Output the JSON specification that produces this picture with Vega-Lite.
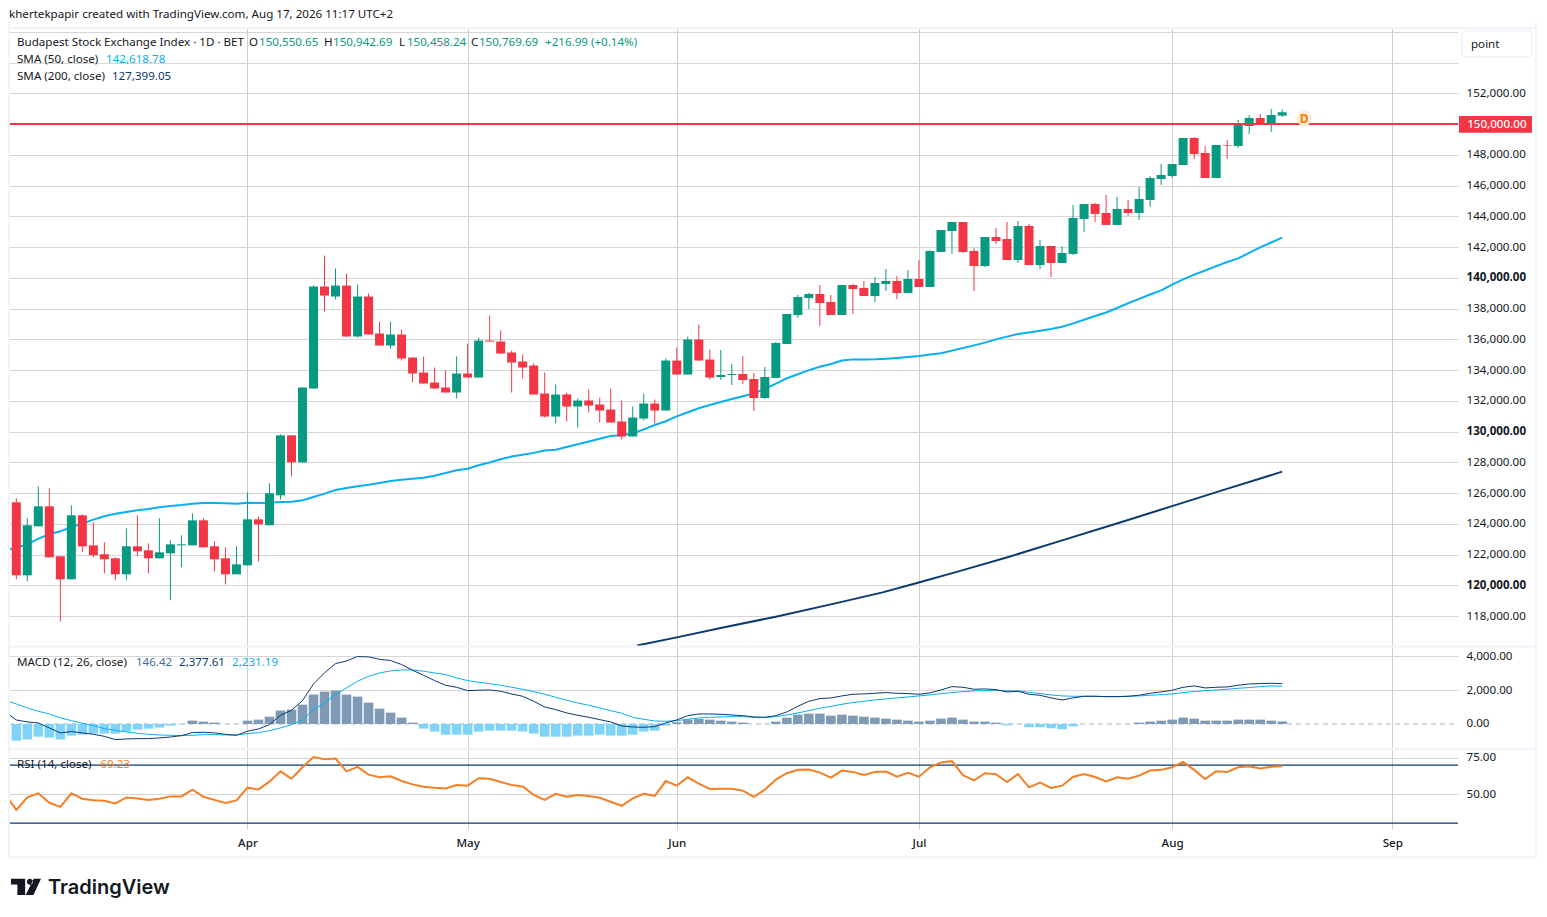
{
"$schema":"https://vega.github.io/schema/vega-lite/v6.json",
"background":"white",
"padding":{"left":5,"top":9,"right":0,"bottom":0},
"spacing":0,
"bounds":"flush",
"config":{"view":{"stroke":null},"font":"Noto Sans","text":{"font":"Noto Sans","fontSize":11.6,"dy":1,"align":"left","baseline":"middle","color":"#131722"}},
"datasets":{
"d":[
{"bar":-0.66,"sma":122329,"macd":550,"sig":1320,"rsi":46},
{"bar":0,"o":125406,"h":125666,"l":120400,"c":120660,"sma":122459,"macd":235,"sig":1182,"hist":-985,"rsi":39.1},
{"bar":1,"o":120660,"h":124366,"l":120270,"c":123911,"sma":122675,"macd":120,"sig":945,"hist":-925,"rsi":47.7},
{"bar":2,"o":123846,"h":126446,"l":123846,"c":125146,"sma":123044,"macd":60,"sig":749,"hist":-750,"rsi":50.5},
{"bar":3,"o":125146,"h":126316,"l":121830,"c":121830,"sma":123326,"macd":-235,"sig":591,"hist":-810,"rsi":44},
{"bar":4,"o":121895,"h":121895,"l":117670,"c":120400,"sma":123521,"macd":-530,"sig":355,"hist":-925,"rsi":41.2},
{"bar":5,"o":120400,"h":125210,"l":120400,"c":124560,"sma":123802,"macd":-450,"sig":197,"hist":-690,"rsi":50.5},
{"bar":6,"o":124560,"h":124626,"l":122155,"c":122546,"sma":124019,"macd":-530,"sig":39,"hist":-630,"rsi":46.8},
{"bar":7,"o":122610,"h":124106,"l":121830,"c":121960,"sma":124279,"macd":-610,"sig":-98,"hist":-570,"rsi":45.8},
{"bar":8,"o":122025,"h":122805,"l":120790,"c":121700,"sma":124496,"macd":-730,"sig":-276,"hist":-570,"rsi":45.4},
{"bar":9,"o":121765,"h":121830,"l":120335,"c":120725,"sma":124669,"macd":-925,"sig":-374,"hist":-570,"rsi":43.5},
{"bar":10,"o":120725,"h":123716,"l":120335,"c":122546,"sma":124777,"macd":-885,"sig":-473,"hist":-450,"rsi":47.7},
{"bar":11,"o":122546,"h":124560,"l":121895,"c":122220,"sma":124886,"macd":-865,"sig":-552,"hist":-335,"rsi":47},
{"bar":12,"o":122285,"h":122740,"l":120790,"c":121765,"sma":124973,"macd":-865,"sig":-611,"hist":-275,"rsi":46},
{"bar":13,"o":121765,"h":124366,"l":121765,"c":122155,"sma":125081,"macd":-825,"sig":-650,"hist":-215,"rsi":46.8},
{"bar":14,"o":122090,"h":122935,"l":119035,"c":122675,"sma":125168,"macd":-770,"sig":-670,"hist":-100,"rsi":48.4},
{"bar":15,"o":122610,"h":123260,"l":121180,"c":122675,"sma":125233,"macd":-690,"sig":-690,"hist":-20,"rsi":48.4},
{"bar":16,"o":122610,"h":124690,"l":122610,"c":124235,"sma":125319,"macd":-510,"sig":-670,"hist":195,"rsi":53},
{"bar":17,"o":124235,"h":124366,"l":122480,"c":122480,"sma":125363,"macd":-490,"sig":-630,"hist":140,"rsi":48.1},
{"bar":18,"o":122546,"h":122870,"l":120920,"c":121700,"sma":125363,"macd":-530,"sig":-630,"hist":80,"rsi":46},
{"bar":19,"o":121765,"h":122480,"l":120075,"c":120725,"sma":125341,"macd":-610,"sig":-650,"hist":5,"rsi":43.8},
{"bar":20,"o":120725,"h":122546,"l":120725,"c":121375,"sma":125319,"macd":-670,"sig":-650,"hist":5,"rsi":45.6},
{"bar":21,"o":121310,"h":126056,"l":121310,"c":124300,"sma":125384,"macd":-430,"sig":-571,"hist":195,"rsi":54.4},
{"bar":22,"o":124300,"h":124495,"l":121570,"c":123975,"sma":125363,"macd":-295,"sig":-512,"hist":255,"rsi":53.2},
{"bar":23,"o":123911,"h":126640,"l":123911,"c":125990,"sma":125384,"macd":-40,"sig":-394,"hist":430,"rsi":58.6},
{"bar":24,"o":125860,"h":129827,"l":125600,"c":129760,"sma":125428,"macd":510,"sig":-236,"hist":790,"rsi":65.7},
{"bar":25,"o":129760,"h":129760,"l":127096,"c":128006,"sma":125449,"macd":810,"sig":-39,"hist":850,"rsi":60.6},
{"bar":26,"o":128006,"h":132870,"l":128006,"c":132870,"sma":125536,"macd":1380,"sig":236,"hist":1140,"rsi":68.5},
{"bar":27,"o":132806,"h":139500,"l":132806,"c":139437,"sma":125753,"macd":2365,"sig":847,"hist":1735,"rsi":75.5},
{"bar":28,"o":139437,"h":141450,"l":137810,"c":138850,"sma":125969,"macd":3015,"sig":1241,"hist":1910,"rsi":74.1},
{"bar":29,"o":138787,"h":140607,"l":138590,"c":139500,"sma":126208,"macd":3565,"sig":1734,"hist":1970,"rsi":74.5},
{"bar":30,"o":139500,"h":140280,"l":136186,"c":136186,"sma":126338,"macd":3720,"sig":2128,"hist":1735,"rsi":65.7},
{"bar":31,"o":136186,"h":139567,"l":136120,"c":138787,"sma":126446,"macd":3980,"sig":2522,"hist":1615,"rsi":68.8},
{"bar":32,"o":138787,"h":138980,"l":136316,"c":136316,"sma":126554,"macd":3960,"sig":2817,"hist":1260,"rsi":63.4},
{"bar":33,"o":136381,"h":137160,"l":135600,"c":135600,"sma":126663,"macd":3820,"sig":3014,"hist":905,"rsi":61.6},
{"bar":34,"o":135600,"h":137160,"l":135406,"c":136316,"sma":126793,"macd":3745,"sig":3132,"hist":670,"rsi":62.3},
{"bar":35,"o":136316,"h":136640,"l":134626,"c":134756,"sma":126880,"macd":3510,"sig":3191,"hist":375,"rsi":59},
{"bar":36,"o":134820,"h":134820,"l":133195,"c":133780,"sma":126945,"macd":3170,"sig":3191,"hist":80,"rsi":56.7},
{"bar":37,"o":133845,"h":134886,"l":133130,"c":133130,"sma":127010,"macd":2875,"sig":3113,"hist":-275,"rsi":55.1},
{"bar":38,"o":133195,"h":134170,"l":132806,"c":132806,"sma":127140,"macd":2560,"sig":3014,"hist":-450,"rsi":54.4},
{"bar":39,"o":132870,"h":133975,"l":132545,"c":132545,"sma":127313,"macd":2285,"sig":2916,"hist":-630,"rsi":53.9},
{"bar":40,"o":132545,"h":134886,"l":132155,"c":133780,"sma":127486,"macd":2165,"sig":2719,"hist":-630,"rsi":56.3},
{"bar":41,"o":133780,"h":135730,"l":133520,"c":133520,"sma":127595,"macd":1970,"sig":2561,"hist":-630,"rsi":55.8},
{"bar":42,"o":133520,"h":136120,"l":133520,"c":135926,"sma":127812,"macd":1990,"sig":2463,"hist":-450,"rsi":60.9},
{"bar":43,"o":135926,"h":137550,"l":135860,"c":135860,"sma":128000,"macd":2010,"sig":2384,"hist":-395,"rsi":60.6},
{"bar":44,"o":135860,"h":136576,"l":135080,"c":135080,"sma":128210,"macd":1930,"sig":2285,"hist":-395,"rsi":58.3},
{"bar":45,"o":135146,"h":135276,"l":132545,"c":134496,"sma":128385,"macd":1770,"sig":2167,"hist":-395,"rsi":56.3},
{"bar":46,"o":134560,"h":135016,"l":133456,"c":134170,"sma":128500,"macd":1635,"sig":2049,"hist":-450,"rsi":55.3},
{"bar":47,"o":134300,"h":134430,"l":132415,"c":132415,"sma":128620,"macd":1340,"sig":1911,"hist":-570,"rsi":49.5},
{"bar":48,"o":132480,"h":133845,"l":130920,"c":130985,"sma":128770,"macd":1005,"sig":1753,"hist":-750,"rsi":46},
{"bar":49,"o":130985,"h":133065,"l":130530,"c":132415,"sma":128820,"macd":847,"sig":1576,"hist":-750,"rsi":50.2},
{"bar":50,"o":132415,"h":132545,"l":130660,"c":131635,"sma":129000,"macd":650,"sig":1399,"hist":-750,"rsi":48.1},
{"bar":51,"o":131635,"h":132155,"l":130270,"c":132025,"sma":129180,"macd":512,"sig":1241,"hist":-690,"rsi":49.3},
{"bar":52,"o":132025,"h":132740,"l":131245,"c":131700,"sma":129360,"macd":395,"sig":1103,"hist":-690,"rsi":48.6},
{"bar":53,"o":131765,"h":132220,"l":130595,"c":131375,"sma":129540,"macd":255,"sig":946,"hist":-630,"rsi":47.5},
{"bar":54,"o":131440,"h":132805,"l":130595,"c":130595,"sma":129720,"macd":118,"sig":788,"hist":-690,"rsi":44.7},
{"bar":55,"o":130660,"h":132025,"l":129490,"c":129685,"sma":129780,"macd":-118,"sig":630,"hist":-690,"rsi":41.9},
{"bar":56,"o":129685,"h":131635,"l":129685,"c":130920,"sma":129880,"macd":-177,"sig":394,"hist":-630,"rsi":47},
{"bar":57,"o":130855,"h":132480,"l":130725,"c":131830,"sma":130150,"macd":-197,"sig":276,"hist":-450,"rsi":50.2},
{"bar":58,"o":131830,"h":132090,"l":130530,"c":131375,"sma":130430,"macd":-157,"sig":177,"hist":-395,"rsi":48.8},
{"bar":59,"o":131375,"h":134755,"l":131375,"c":134625,"sma":130680,"macd":60,"sig":158,"hist":-100,"rsi":59},
{"bar":60,"o":134625,"h":135470,"l":133715,"c":133715,"sma":130990,"macd":236,"sig":197,"hist":100,"rsi":55.8},
{"bar":61,"o":133715,"h":136186,"l":133715,"c":135990,"sma":131260,"macd":492,"sig":276,"hist":255,"rsi":61.6},
{"bar":62,"o":135990,"h":136966,"l":134625,"c":134625,"sma":131520,"macd":590,"sig":355,"hist":295,"rsi":57.2},
{"bar":63,"o":134690,"h":135340,"l":133390,"c":133520,"sma":131730,"macd":590,"sig":394,"hist":255,"rsi":53.5},
{"bar":64,"o":133555,"h":135310,"l":133360,"c":133685,"sma":131930,"macd":570,"sig":414,"hist":195,"rsi":53.7},
{"bar":65,"o":133685,"h":134400,"l":133035,"c":133750,"sma":132125,"macd":530,"sig":433,"hist":140,"rsi":53.7},
{"bar":66,"o":133750,"h":134920,"l":133100,"c":133360,"sma":132300,"macd":492,"sig":433,"hist":80,"rsi":52.3},
{"bar":67,"o":133425,"h":133815,"l":131345,"c":132190,"sma":132490,"macd":413,"sig":394,"hist":-5,"rsi":48.1},
{"bar":68,"o":132190,"h":134205,"l":132125,"c":133555,"sma":132780,"macd":394,"sig":374,"hist":5,"rsi":53},
{"bar":69,"o":133490,"h":135830,"l":133490,"c":135765,"sma":133130,"macd":492,"sig":433,"hist":140,"rsi":60},
{"bar":70,"o":135700,"h":137650,"l":135700,"c":137650,"sma":133470,"macd":709,"sig":532,"hist":375,"rsi":64.4},
{"bar":71,"o":137585,"h":138885,"l":137390,"c":138756,"sma":133730,"macd":1044,"sig":650,"hist":550,"rsi":66.7},
{"bar":72,"o":138690,"h":139015,"l":137975,"c":138950,"sma":134000,"macd":1340,"sig":788,"hist":610,"rsi":66.9},
{"bar":73,"o":138950,"h":139535,"l":136870,"c":138365,"sma":134225,"macd":1497,"sig":926,"hist":610,"rsi":64.8},
{"bar":74,"o":138430,"h":138885,"l":137585,"c":137585,"sma":134400,"macd":1537,"sig":1044,"hist":490,"rsi":61.3},
{"bar":75,"o":137585,"h":139535,"l":137585,"c":139535,"sma":134620,"macd":1655,"sig":1162,"hist":550,"rsi":66.2},
{"bar":76,"o":139535,"h":139600,"l":137650,"c":139275,"sma":134700,"macd":1753,"sig":1261,"hist":490,"rsi":65.3},
{"bar":77,"o":139340,"h":139795,"l":138820,"c":138820,"sma":134700,"macd":1773,"sig":1340,"hist":430,"rsi":63.2},
{"bar":78,"o":138820,"h":140055,"l":138430,"c":139665,"sma":134710,"macd":1812,"sig":1418,"hist":375,"rsi":65.3},
{"bar":79,"o":139600,"h":140575,"l":139145,"c":139795,"sma":134740,"macd":1852,"sig":1478,"hist":315,"rsi":65.5},
{"bar":80,"o":139795,"h":140120,"l":138625,"c":139015,"sma":134790,"macd":1812,"sig":1537,"hist":255,"rsi":62},
{"bar":81,"o":139015,"h":140510,"l":139015,"c":139925,"sma":134850,"macd":1793,"sig":1596,"hist":195,"rsi":64.6},
{"bar":82,"o":139925,"h":141160,"l":139405,"c":139405,"sma":134920,"macd":1753,"sig":1655,"hist":140,"rsi":62},
{"bar":83,"o":139405,"h":141810,"l":139405,"c":141745,"sma":135010,"macd":1832,"sig":1714,"hist":195,"rsi":68.5},
{"bar":84,"o":141680,"h":143110,"l":141680,"c":143110,"sma":135100,"macd":2009,"sig":1793,"hist":315,"rsi":71.8},
{"bar":85,"o":143045,"h":143630,"l":141575,"c":143630,"sma":135270,"macd":2206,"sig":1852,"hist":375,"rsi":72.7},
{"bar":86,"o":143630,"h":143630,"l":141615,"c":141680,"sma":135440,"macd":2167,"sig":1911,"hist":255,"rsi":63},
{"bar":87,"o":141745,"h":141940,"l":139145,"c":140770,"sma":135610,"macd":2049,"sig":1950,"hist":140,"rsi":59.5},
{"bar":88,"o":140770,"h":142655,"l":140705,"c":142655,"sma":135790,"macd":2068,"sig":1970,"hist":140,"rsi":64.4},
{"bar":89,"o":142655,"h":143240,"l":142200,"c":142395,"sma":136000,"macd":2029,"sig":1990,"hist":80,"rsi":63.7},
{"bar":90,"o":142525,"h":143630,"l":141160,"c":141160,"sma":136180,"macd":1891,"sig":1950,"hist":-80,"rsi":58.3},
{"bar":91,"o":141160,"h":143695,"l":140965,"c":143370,"sma":136350,"macd":1930,"sig":1950,"hist":5,"rsi":63.8},
{"bar":92,"o":143370,"h":143500,"l":140835,"c":140835,"sma":136450,"macd":1753,"sig":1871,"hist":-195,"rsi":54.6},
{"bar":93,"o":140835,"h":142460,"l":140575,"c":142070,"sma":136560,"macd":1694,"sig":1793,"hist":-195,"rsi":57.9},
{"bar":94,"o":142070,"h":142070,"l":140055,"c":140965,"sma":136680,"macd":1537,"sig":1714,"hist":-255,"rsi":54.2},
{"bar":95,"o":140965,"h":142070,"l":140965,"c":141615,"sma":136820,"macd":1418,"sig":1655,"hist":-315,"rsi":55.8},
{"bar":96,"o":141555,"h":144740,"l":141490,"c":143895,"sma":137040,"macd":1537,"sig":1635,"hist":-140,"rsi":61.8},
{"bar":97,"o":143830,"h":144805,"l":142985,"c":144805,"sma":137280,"macd":1635,"sig":1635,"hist":-5,"rsi":63.9},
{"bar":98,"o":144805,"h":144870,"l":143635,"c":144155,"sma":137520,"macd":1635,"sig":1635,"hist":-5,"rsi":61.8},
{"bar":99,"o":144220,"h":145390,"l":143440,"c":143440,"sma":137750,"macd":1615,"sig":1615,"hist":-5,"rsi":58.8},
{"bar":100,"o":143440,"h":145260,"l":143440,"c":144480,"sma":138040,"macd":1615,"sig":1615,"hist":-5,"rsi":61.6},
{"bar":101,"o":144480,"h":145065,"l":144025,"c":144220,"sma":138350,"macd":1635,"sig":1635,"hist":-5,"rsi":60.6},
{"bar":102,"o":144220,"h":145910,"l":143765,"c":145130,"sma":138630,"macd":1694,"sig":1655,"hist":80,"rsi":62.7},
{"bar":103,"o":145065,"h":146625,"l":144610,"c":146495,"sma":138920,"macd":1812,"sig":1694,"hist":140,"rsi":66.2},
{"bar":104,"o":146430,"h":147405,"l":146040,"c":146690,"sma":139190,"macd":1891,"sig":1734,"hist":195,"rsi":66.7},
{"bar":105,"o":146625,"h":147405,"l":146495,"c":147405,"sma":139560,"macd":1990,"sig":1773,"hist":255,"rsi":68.5},
{"bar":106,"o":147340,"h":149095,"l":147340,"c":149095,"sma":139900,"macd":2167,"sig":1852,"hist":375,"rsi":72.2},
{"bar":107,"o":149095,"h":149160,"l":147730,"c":148055,"sma":140210,"macd":2246,"sig":1911,"hist":315,"rsi":66.7},
{"bar":108,"o":148120,"h":148575,"l":146495,"c":146495,"sma":140480,"macd":2128,"sig":1970,"hist":195,"rsi":60.4},
{"bar":109,"o":146495,"h":148640,"l":146495,"c":148640,"sma":140760,"macd":2167,"sig":2009,"hist":195,"rsi":65.7},
{"bar":110,"o":148640,"h":148965,"l":147730,"c":148600,"sma":141030,"macd":2187,"sig":2049,"hist":195,"rsi":65.3},
{"bar":111,"o":148575,"h":150265,"l":148445,"c":149940,"sma":141270,"macd":2285,"sig":2108,"hist":255,"rsi":68.5},
{"bar":112,"o":149875,"h":150590,"l":149355,"c":150395,"sma":141620,"macd":2364,"sig":2147,"hist":255,"rsi":69.2},
{"bar":113,"o":150395,"h":150655,"l":150030,"c":150030,"sma":141980,"macd":2384,"sig":2206,"hist":255,"rsi":67.6},
{"bar":114,"o":150005,"h":150980,"l":149490,"c":150590,"sma":142300,"macd":2403,"sig":2246,"hist":195,"rsi":68.8},
{"bar":115,"o":150550.65,"h":150942.69,"l":150458.24,"c":150769.69,"sma":142618.78,"macd":2377.61,"sig":2231.19,"hist":146.42,"rsi":69.23}
],
"sma200":[
{"bar":56.4,"v":116100},{"bar":60,"v":116624},{"bar":64.1,"v":117250},{"bar":69,"v":117970},{"bar":74.4,"v":118834},{"bar":78.7,"v":119550},{"bar":81.9,"v":120177},{"bar":85.6,"v":120915},{"bar":90.2,"v":121870},{"bar":95.3,"v":122995},{"bar":100.2,"v":124080},{"bar":105,"v":125160},{"bar":109.9,"v":126265},{"bar":115,"v":127399}
]
},
"vconcat":[
{"width":1449,"height":618,"layer":[
 {"data":{"name":"sma200"},"mark":{"type":"line","color":"#0b3a6e","strokeWidth":2},"encoding":{
  "x":{"field":"bar","type":"quantitative","scale":{"domain":[-0.663,130.97],"nice":false,"zero":false,"padding":0},
   "axis":{"title":null,"values":[21,41,60,82,105,125],"labels":false,"ticks":false,"domain":false,"grid":true,"gridColor":"#cfcfcf"}},
  "y":{"field":"v","type":"quantitative","scale":{"domain":[116064,156246],"nice":false,"zero":false},
   "axis":{"orient":"right","title":null,"domain":false,"ticks":false,"grid":true,"gridColor":"#d6d6d6","labelPadding":8,"labelFontSize":11.6,"labelColor":"#131722","tickCount":40,"labelOverlap":false,
    "labelFontWeight":{"expr":"datum.value % 10000 === 0 ? 'bold' : 'normal'"},
    "values":[118000,120000,122000,124000,126000,128000,130000,132000,134000,136000,138000,140000,142000,144000,146000,148000,150000,152000,154000,156000],
    "labelExpr":"datum.value > 152000 ? '' : format(datum.value, ',.2f')"}}}},
 {"data":{"name":"d"},"encoding":{"x":{"field":"bar","type":"quantitative"}},"layer":[
  {"mark":{"type":"line","color":"#0aaef2","strokeWidth":2},"encoding":{"y":{"field":"sma","type":"quantitative"}}},
  {"mark":{"type":"rule","strokeWidth":1},"encoding":{"y":{"field":"l","type":"quantitative"},"y2":{"field":"h"},"color":{"condition":{"test":"datum.c >= datum.o","value":"#089981"},"value":"#F23645"}}},
  {"mark":{"type":"bar","size":9},"encoding":{"y":{"field":"o","type":"quantitative"},"y2":{"field":"c"},"color":{"condition":{"test":"datum.c >= datum.o","value":"#089981"},"value":"#F23645"}}}
 ]},
 {"data":{"values":[{}]},"layer":[
  {"mark":{"type":"rule","color":"#F23645","strokeWidth":2},"encoding":{"y":{"datum":150000}}},
  {"mark":{"type":"point","filled":true,"color":"#FFEBD2","opacity":1,"size":230},"encoding":{"x":{"datum":117},"y":{"datum":150375}}},
  {"mark":{"type":"text","align":"center","color":"#F57C00","fontSize":12,"fontWeight":"bold"},"encoding":{"x":{"datum":117},"y":{"datum":150375},"text":{"value":"D"}}},
  {"mark":{"type":"rule","color":"#f0f3fa","strokeWidth":2},"encoding":{"x":{"datum":-0.663},"x2":{"datum":138.05},"y":{"datum":156230}}},
  {"mark":{"type":"rect","fill":"white","stroke":"#e9ebef","cornerRadius":4},"encoding":{"x":{"datum":131.33},"x2":{"datum":137.69},"y":{"datum":156051},"y2":{"datum":154360}}},
  {"mark":{"type":"text"},"encoding":{"x":{"datum":132.15},"y":{"datum":155206},"text":{"value":"point"}}},
  {"mark":{"type":"rect","fill":"#F23645"},"encoding":{"x":{"datum":131.06},"x2":{"datum":137.69},"y":{"datum":150524},"y2":{"datum":149438}}},
  {"mark":{"type":"text","color":"white","fontWeight":500},"encoding":{"x":{"datum":131.8},"y":{"datum":150000},"text":{"value":"150,000.00"}}},
  {"mark":{"type":"text"},"encoding":{"x":{"datum":-0.663},"y":{"datum":157156},"text":{"value":"khertekpapir created with TradingView.com, Aug 17, 2026 11:17 UTC+2"}}},
  {"mark":{"type":"text"},"encoding":{"x":{"datum":0.064},"y":{"datum":155336},"text":{"value":"Budapest Stock Exchange Index · 1D · BET"}}},
  {"mark":{"type":"text"},"encoding":{"x":{"datum":21.14},"y":{"datum":155336},"text":{"value":"O"}}},
  {"mark":{"type":"text","color":"#089981"},"encoding":{"x":{"datum":22.05},"y":{"datum":155336},"text":{"value":"150,550.65"}}},
  {"mark":{"type":"text"},"encoding":{"x":{"datum":27.95},"y":{"datum":155336},"text":{"value":"H"}}},
  {"mark":{"type":"text","color":"#089981"},"encoding":{"x":{"datum":28.77},"y":{"datum":155336},"text":{"value":"150,942.69"}}},
  {"mark":{"type":"text"},"encoding":{"x":{"datum":34.77},"y":{"datum":155336},"text":{"value":"L"}}},
  {"mark":{"type":"text","color":"#089981"},"encoding":{"x":{"datum":35.49},"y":{"datum":155336},"text":{"value":"150,458.24"}}},
  {"mark":{"type":"text"},"encoding":{"x":{"datum":41.3},"y":{"datum":155336},"text":{"value":"C"}}},
  {"mark":{"type":"text","color":"#089981"},"encoding":{"x":{"datum":42.03},"y":{"datum":155336},"text":{"value":"150,769.69"}}},
  {"mark":{"type":"text","color":"#089981"},"encoding":{"x":{"datum":48.03},"y":{"datum":155336},"text":{"value":"+216.99 (+0.14%)"}}},
  {"mark":{"type":"text"},"encoding":{"x":{"datum":0.064},"y":{"datum":154230},"text":{"value":"SMA (50, close)"}}},
  {"mark":{"type":"text","color":"#0aaef2"},"encoding":{"x":{"datum":8.15},"y":{"datum":154230},"text":{"value":"142,618.78"}}},
  {"mark":{"type":"text"},"encoding":{"x":{"datum":0.064},"y":{"datum":153125},"text":{"value":"SMA (200, close)"}}},
  {"mark":{"type":"text","color":"#0b3a6e"},"encoding":{"x":{"datum":8.69},"y":{"datum":153125},"text":{"value":"127,399.05"}}}
 ]}
]},
{"width":1449,"height":103,"layer":[
 {"data":{"values":[{}]},"layer":[
  {"mark":{"type":"rule","color":"#b2b5be","strokeDash":[5,4]},"encoding":{
   "x":{"datum":-0.663,"type":"quantitative","scale":{"domain":[-0.663,130.97],"nice":false,"zero":false,"padding":0},
    "axis":{"title":null,"values":[21,41,60,82,105,125],"labels":false,"ticks":false,"domain":false,"grid":true,"gridColor":"#cfcfcf"}},
   "x2":{"datum":130.97},
   "y":{"datum":0,"type":"quantitative","scale":{"domain":[-1479,4604],"nice":false,"zero":false},
    "axis":{"orient":"right","title":null,"domain":false,"ticks":false,"grid":true,"gridColor":"#d6d6d6","labelPadding":8,"labelFontSize":11.6,"labelColor":"#131722",
     "gridOpacity":{"expr":"datum.value === 0 ? 0 : 1"},"values":[0,2000,4000],"format":",.2f"}}}}
 ]},
 {"data":{"name":"d"},"encoding":{"x":{"field":"bar","type":"quantitative"}},"layer":[
  {"mark":{"type":"bar","size":9.6},"encoding":{"y":{"field":"hist","type":"quantitative"},"color":{"condition":{"test":"datum.hist >= 0","value":"#7f9ab5"},"value":"#7fd3f8"}}},
  {"mark":{"type":"line","color":"#0aaef2","strokeWidth":1},"encoding":{"y":{"field":"sig","type":"quantitative"}}},
  {"mark":{"type":"line","color":"#0b3a6e","strokeWidth":1},"encoding":{"y":{"field":"macd","type":"quantitative"}}}
 ]},
 {"data":{"values":[{}]},"layer":[
  {"mark":{"type":"rule","color":"#f0f3fa","strokeWidth":2},"encoding":{"x":{"datum":-0.663},"x2":{"datum":138.05},"y":{"datum":4580}}},
  {"mark":{"type":"text"},"encoding":{"x":{"datum":0.064},"y":{"datum":3686},"text":{"value":"MACD (12, 26, close)"}}},
  {"mark":{"type":"text","color":"#3f6f9c"},"encoding":{"x":{"datum":10.87},"y":{"datum":3686},"text":{"value":"146.42"}}},
  {"mark":{"type":"text","color":"#0b3a6e"},"encoding":{"x":{"datum":14.78},"y":{"datum":3686},"text":{"value":"2,377.61"}}},
  {"mark":{"type":"text","color":"#0aaef2"},"encoding":{"x":{"datum":19.6},"y":{"datum":3686},"text":{"value":"2,231.19"}}}
 ]}
]},
{"width":1449,"height":80,"layer":[
 {"data":{"values":[{}]},"layer":[
  {"mark":{"type":"rule","color":"#0b3a6e","strokeWidth":1.2},"encoding":{
   "x":{"datum":-0.663,"type":"quantitative","scale":{"domain":[-0.663,130.97],"nice":false,"zero":false,"padding":0},
    "axis":{"title":null,"values":[21,41,60,82,105,125],"labels":true,"ticks":false,"domain":false,"grid":true,"gridColor":"#cfcfcf","labelPadding":8,"labelFontSize":11.6,"labelColor":"#131722","labelFontWeight":500,"labelOverlap":false,"labelFlush":false,
     "labelExpr":"datum.value === 21 ? 'Apr' : datum.value === 41 ? 'May' : datum.value === 60 ? 'Jun' : datum.value === 82 ? 'Jul' : datum.value === 105 ? 'Aug' : 'Sep'"}},
   "x2":{"datum":130.97},
   "y":{"datum":70,"type":"quantitative","scale":{"domain":[25.9,81.1],"nice":false,"zero":false},
    "axis":{"orient":"right","title":null,"domain":false,"ticks":false,"grid":true,"gridColor":"#d6d6d6","labelPadding":8,"labelFontSize":11.6,"labelColor":"#131722","values":[50,75],"format":",.2f"}}}},
  {"mark":{"type":"rule","color":"#0b3a6e","strokeWidth":1.2},"encoding":{"x":{"datum":-0.663},"x2":{"datum":130.97},"y":{"datum":30}}}
 ]},
 {"data":{"name":"d"},"mark":{"type":"line","color":"#F57F25","strokeWidth":2},"encoding":{"x":{"field":"bar","type":"quantitative"},"y":{"field":"rsi","type":"quantitative"}}},
 {"data":{"values":[{}]},"layer":[
  {"mark":{"type":"rule","color":"#f0f3fa","strokeWidth":2},"encoding":{"x":{"datum":-0.663},"x2":{"datum":138.05},"y":{"datum":81}}},
  {"mark":{"type":"rule","color":"#f0f3fa","strokeWidth":2},"encoding":{"x":{"datum":-0.663},"x2":{"datum":138.05},"y":{"datum":6.46}}},
  {"mark":{"type":"rule","color":"#f0f3fa","strokeWidth":2},"encoding":{"x":{"datum":-0.663},"y":{"datum":6.46},"y2":{"datum":582.8}}},
  {"mark":{"type":"rule","color":"#f0f3fa","strokeWidth":2},"encoding":{"x":{"datum":138.05},"y":{"datum":6.46},"y2":{"datum":582.8}}},
  {"mark":{"type":"text"},"encoding":{"x":{"datum":0.064},"y":{"datum":70.7},"text":{"value":"RSI (14, close)"}}},
  {"mark":{"type":"text","color":"#F57F25"},"encoding":{"x":{"datum":7.63},"y":{"datum":70.7},"text":{"value":"69.23"}}},
  {"mark":{"type":"point","filled":true,"opacity":1,"color":"#131722","size":900,"shape":"M-1 -.54H-.056V.54H-.573V-.157H-1ZM.058 -.337a.2 .2 0 1 0 .4 0a.2 .2 0 1 0 -.4 0ZM.52 -.54H1L.5 .54H-.02Z"},"encoding":{"x":{"datum":0.88},"y":{"datum":-14}}},
  {"mark":{"type":"text","font":"Inter","fontSize":20,"fontWeight":600},"encoding":{"x":{"datum":2.88},"y":{"datum":-14},"text":{"value":"TradingView"}}}
 ]}
]}
]
}
